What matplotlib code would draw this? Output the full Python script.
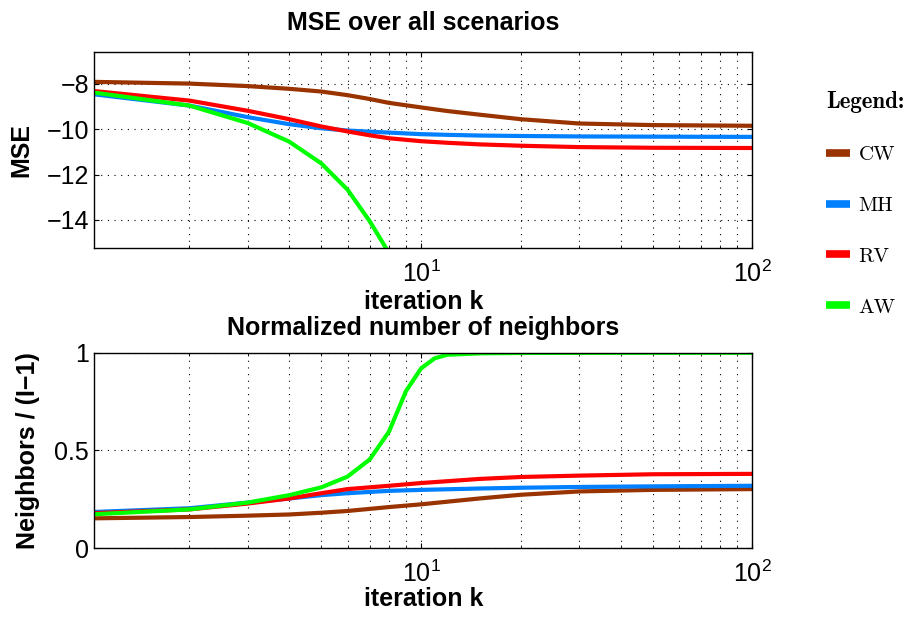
import matplotlib
matplotlib.use('Agg')
import matplotlib.pyplot as plt
from matplotlib.ticker import FormatStrFormatter

plt.rcParams['font.family'] = 'Liberation Sans'
plt.rcParams['mathtext.fontset'] = 'custom'
plt.rcParams['mathtext.rm'] = 'Liberation Sans'
plt.rcParams['mathtext.it'] = 'Liberation Sans:italic'
plt.rcParams['mathtext.bf'] = 'Liberation Sans:bold'
plt.rcParams['axes.unicode_minus'] = True

# iterations
k = [1, 2, 3, 4, 5, 6, 7, 8, 10, 12, 15, 20, 30, 50, 100]
k_aw_mse = [1, 2, 3, 4, 5, 6, 7, 8]
k_nb = [1, 2, 3, 4, 5, 6, 8, 10, 15, 20, 30, 50, 100]
k_aw_nb = [1, 2, 3, 4, 5, 6, 7, 8, 9, 10, 11, 12, 15, 20, 50, 100]

# MSE over all scenarios
mse_cw = [-7.91, -7.99, -8.1, -8.22, -8.34, -8.5, -8.67, -8.84, -9.04, -9.2, -9.36, -9.56, -9.75, -9.82, -9.85]
mse_mh = [-8.44, -8.96, -9.47, -9.78, -9.96, -10.06, -10.11, -10.15, -10.22, -10.25, -10.28, -10.3, -10.32, -10.33, -10.34]
mse_rv = [-8.3, -8.74, -9.19, -9.56, -9.88, -10.1, -10.27, -10.4, -10.53, -10.6, -10.67, -10.73, -10.79, -10.82, -10.83]
mse_aw = [-8.36, -8.96, -9.73, -10.55, -11.51, -12.67, -14.06, -15.46]

# normalized number of neighbors
nb_cw = [0.152, 0.159, 0.166, 0.172, 0.181, 0.19, 0.21, 0.224, 0.254, 0.273, 0.29, 0.298, 0.302]
nb_mh = [0.184, 0.204, 0.233, 0.254, 0.271, 0.281, 0.293, 0.298, 0.305, 0.309, 0.313, 0.316, 0.319]
nb_rv = [0.178, 0.198, 0.228, 0.254, 0.281, 0.302, 0.319, 0.333, 0.354, 0.364, 0.371, 0.378, 0.38]
nb_aw = [0.172, 0.198, 0.233, 0.271, 0.311, 0.366, 0.454, 0.596, 0.803, 0.92, 0.972, 0.99, 0.997, 0.999, 1.0, 1.0]

labels = ['CW', 'MH', 'RV', 'AW']
colors = ['#993300', '#0080ff', '#ff0000', '#00ff00']
lw = 3.0
fs = 18

fig = plt.figure(figsize=(9.17, 6.2), dpi=100)
ax1 = fig.add_axes([0.1025, 0.6, 0.718, 0.316])
ax2 = fig.add_axes([0.1025, 0.116, 0.718, 0.315])

lines = []
for (x, y), c, lab in zip([(k, mse_cw), (k, mse_mh), (k, mse_rv), (k_aw_mse, mse_aw)], colors, labels):
    ln, = ax1.plot(x, y, color=c, lw=lw, label=lab)
    lines.append(ln)
for (x, y), c in zip([(k_nb, nb_cw), (k_nb, nb_mh), (k_nb, nb_rv), (k_aw_nb, nb_aw)], colors):
    ax2.plot(x, y, color=c, lw=lw)

ax1.set_ylim(-15.24, -6.6)
ax1.set_yticks([-14, -12, -10, -8])
ax2.set_ylim(0, 1)
ax2.set_yticks([0, 0.5, 1])
ax2.yaxis.set_major_formatter(FormatStrFormatter('%g'))

dots = (0, (1, 5))
for ax in (ax1, ax2):
    ax.set_xscale('log')
    ax.set_xlim(1.03, 100)
    ax.grid(True, which='major', axis='both', color='black', linestyle=dots, linewidth=0.8)
    ax.grid(True, which='minor', axis='x', color='black', linestyle=dots, linewidth=0.8)
    ax.tick_params(which='both', direction='in', top=True, right=True, labelsize=fs)
    ax.tick_params(axis='x', which='major', pad=9)
    ax.set_xlabel('iteration k', fontsize=fs, fontweight='bold')
    for s in ax.spines.values():
        s.set_linewidth(1.0)

ax1.xaxis.set_label_coords(0.5, -0.215)
ax2.xaxis.set_label_coords(0.5, -0.2)

ax1.set_title('MSE over all scenarios', fontsize=fs, fontweight='bold', pad=16)
ax1.set_ylabel('MSE', fontsize=fs, fontweight='bold')
ax1.yaxis.set_label_coords(-0.092, 0.5)
ax2.set_title('Normalized number of neighbors', fontsize=fs, fontweight='bold', pad=13)
ax2.set_ylabel('Neighbors / (I\u22121)', fontsize=fs, fontweight='bold')
ax2.yaxis.set_label_coords(-0.082, 0.5)

leg = fig.legend(handles=lines, labels=labels, loc='upper left', bbox_to_anchor=(0.901, 0.853),
                 frameon=False, borderpad=0, borderaxespad=0,
                 handlelength=1.15, handletextpad=0.4, labelspacing=1.55,
                 prop={'family': 'cmr10', 'size': 15}, title='Legend:',
                 title_fontproperties={'family': 'cmb10', 'size': 16.5})
leg._legend_box.align = 'left'
for h in leg.legend_handles:
    h.set_linewidth(5.5)
    h.set_solid_capstyle('butt')

fig.savefig('out.png', dpi=100)
